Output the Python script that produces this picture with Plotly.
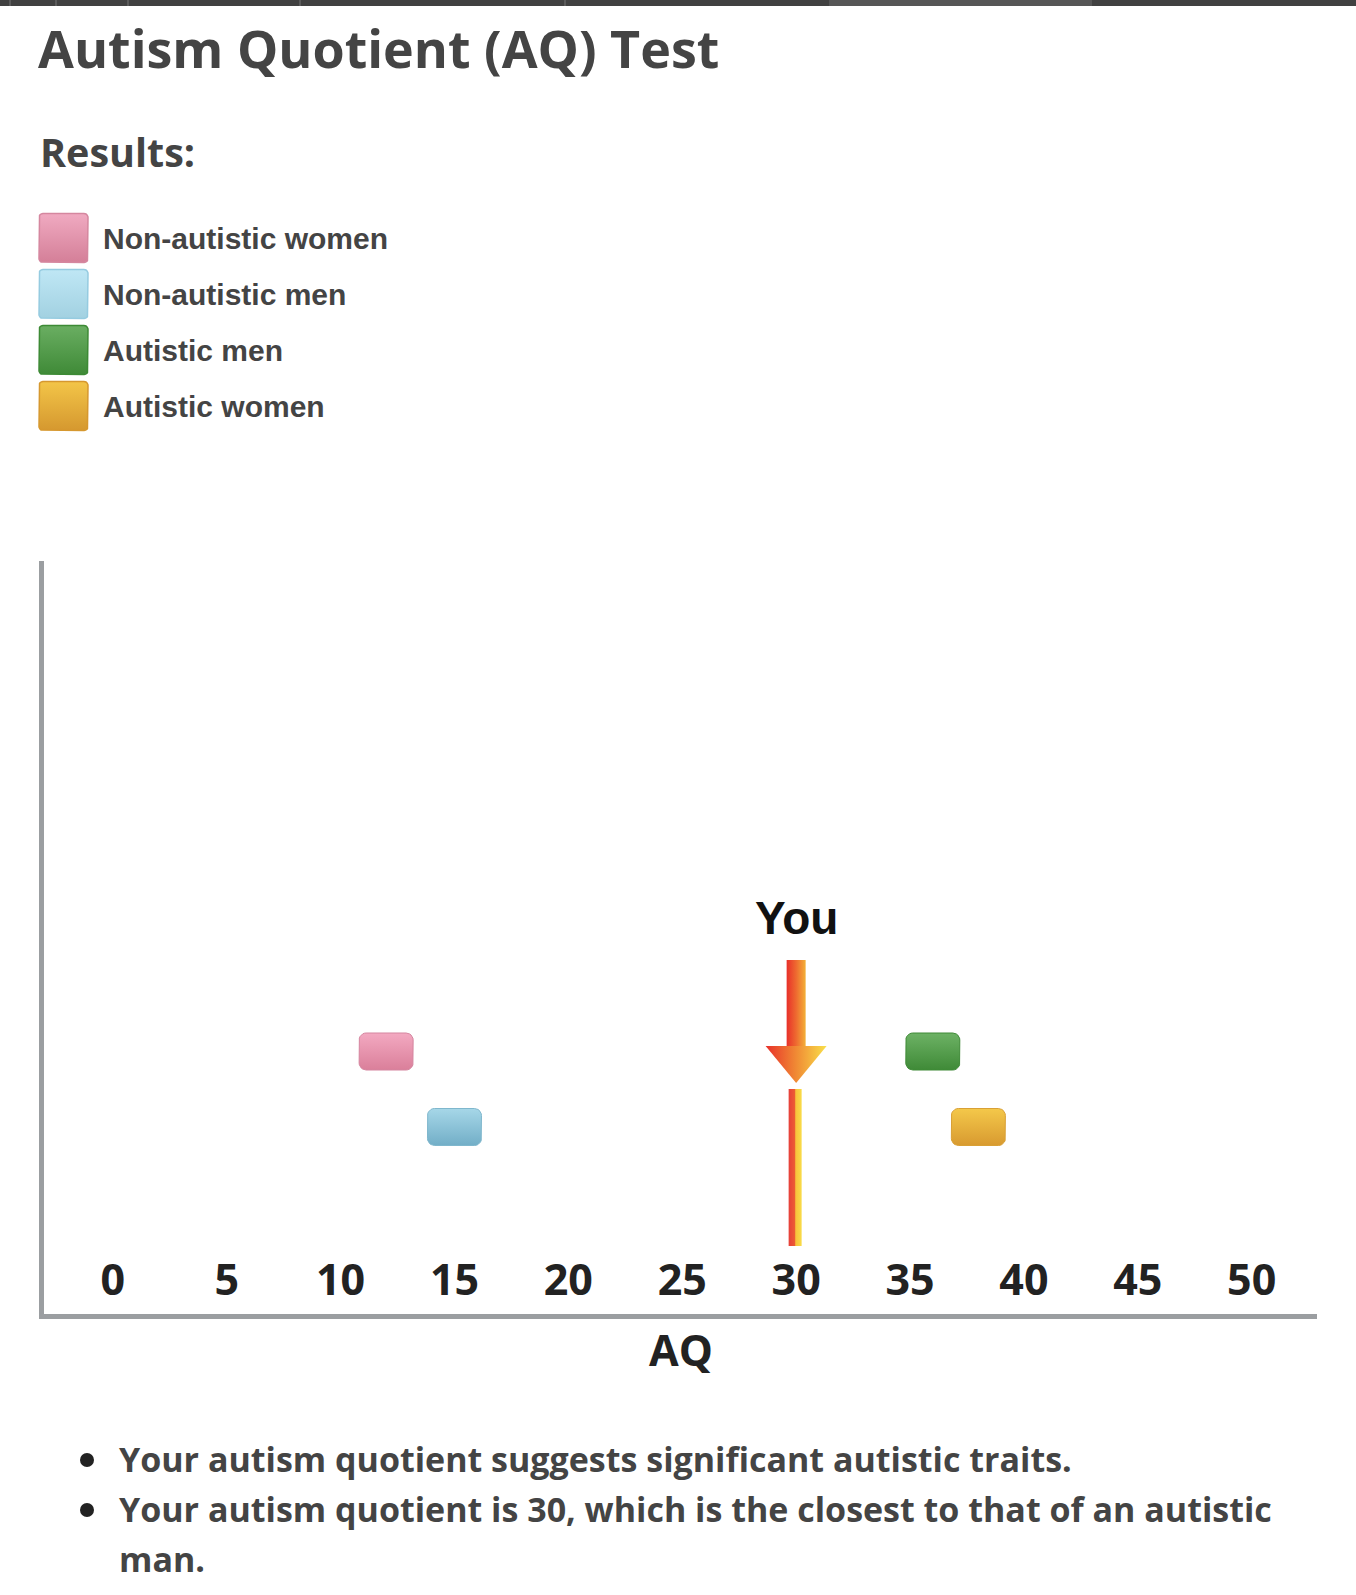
import numpy as np
import plotly.graph_objects as go

# ---------------- data ----------------
groups = ["Non-autistic women", "Non-autistic men", "Autistic men", "Autistic women"]
group_aq = [12, 15, 36, 38]
group_row = [1, 2, 1, 2]
you_score = 30
tick_values = [0, 5, 10, 15, 20, 25, 30, 35, 40, 45, 50]
tick_labels = ["0", "5", "10", "15", "20", "25", "30", "35", "40", "45", "50"]
x_title = "AQ"
bullets = [
    "Your autism quotient suggests significant autistic traits.",
    "Your autism quotient is 30, which is the closest to that of an autistic",
    "man.",
]

# ---------------- styling / layout constants ----------------
W, H = 1356, 1595
PL, PR, PT, PB = 44, 1317, 561, 1314       # plot area in page pixels
X0PX, PPX = 112.8, 22.778                  # pixel of AQ=0, pixels per AQ unit
ROW1PX, PPY = 1051.5, 75.5                 # pixel of row 1, pixels per row

box_top = ["#f3a9c1", "#a6d7e8", "#6db265", "#f4c84a"]
box_bot = ["#da7f9a", "#72aec7", "#3f8a37", "#d89a30"]
box_line = ["#d5859f", "#7fb7cd", "#3f8a37", "#d9a035"]
leg_top = ["#f0aac1", "#bfe7f5", "#6aae62", "#f3c548"]
leg_bot = ["#d47f98", "#a2d1e1", "#3f8a37", "#d5982f"]
leg_line = ["#d5879f", "#95cbe0", "#3d8a35", "#d6982f"]

xr = [(PL - X0PX) / PPX, (PR - X0PX) / PPX]
yr = [1 + (PB - ROW1PX) / PPY, 1 + (PT - ROW1PX) / PPY]   # reversed

def rrect(cx, cy, hw, hh, r, sx, sy):
    """rounded rectangle path; r in pixels, sx/sy pixels per unit"""
    rx, ry = r / sx, r / sy
    pts_x, pts_y = [], []
    corners = [(cx + hw - rx, cy - hh + ry, -90, 0),
               (cx + hw - rx, cy + hh - ry, 0, 90),
               (cx - hw + rx, cy + hh - ry, 90, 180),
               (cx - hw + rx, cy - hh + ry, 180, 270)]
    for (ccx, ccy, a0, a1) in corners:
        for a in np.linspace(np.radians(a0), np.radians(a1), 7):
            pts_x.append(ccx + rx * np.cos(a))
            pts_y.append(ccy + ry * np.sin(a))
    pts_x.append(pts_x[0]); pts_y.append(pts_y[0])
    return pts_x, pts_y

fig = go.Figure()

# ---------------- group boxes (data) ----------------
bw_px, bh_px = 54, 37
for i, g in enumerate(groups):
    hw = bw_px / 2 / PPX
    hh = bh_px / 2 / PPY
    xs, ys = rrect(group_aq[i], group_row[i], hw, hh, 7, PPX, PPY)
    fig.add_trace(go.Scatter(
        x=xs, y=ys, mode="lines", fill="toself", name=g,
        line=dict(color=box_line[i], width=1),
        fillgradient=dict(type="vertical",
                          colorscale=[[0, box_top[i]], [1, box_bot[i]]],
                          start=group_row[i] - hh, stop=group_row[i] + hh),
        hoverinfo="name", showlegend=False))

# ---------------- "You" arrow ----------------
def r_of(px):
    return 1 + (px - ROW1PX) / PPY

sh = 9.5 / PPX
hd = 30.5 / PPX
fig.add_trace(go.Scatter(
    x=[you_score - sh, you_score + sh, you_score + sh, you_score - sh, you_score - sh],
    y=[r_of(960), r_of(960), r_of(1047), r_of(1047), r_of(960)],
    mode="lines", fill="toself", line=dict(width=0, color="rgba(0,0,0,0)"),
    fillgradient=dict(type="horizontal",
                      colorscale=[[0, "#e8302a"], [0.5, "#ee6a30"], [1, "#f3b038"]],
                      start=you_score - sh, stop=you_score + sh),
    hoverinfo="skip", showlegend=False))
fig.add_trace(go.Scatter(
    x=[you_score - hd, you_score + hd, you_score, you_score - hd],
    y=[r_of(1046), r_of(1046), r_of(1083), r_of(1046)],
    mode="lines", fill="toself", line=dict(width=0, color="rgba(0,0,0,0)"),
    fillgradient=dict(type="horizontal",
                      colorscale=[[0, "#e8302a"], [0.5, "#f08a34"], [1, "#f9e04a"]],
                      start=you_score - hd, stop=you_score + hd),
    hoverinfo="skip", showlegend=False))
# marker bar under the arrow
b0 = you_score - 7.5 / PPX
b1 = you_score + 5.5 / PPX
fig.add_trace(go.Scatter(
    x=[b0, b1, b1, b0, b0],
    y=[r_of(1089), r_of(1089), r_of(1246), r_of(1246), r_of(1089)],
    mode="lines", fill="toself", line=dict(width=0, color="rgba(0,0,0,0)"),
    fillgradient=dict(type="horizontal",
                      colorscale=[[0, "#e6403a"], [0.45, "#ec5a34"], [0.55, "#f7c23c"], [1, "#f9dc48"]],
                      start=b0, stop=b1),
    hoverinfo="skip", showlegend=False))
fig.add_annotation(x=you_score, y=r_of(918), xref="x", yref="y", text="You",
                   showarrow=False, xanchor="center", yanchor="middle",
                   font=dict(family="Liberation Sans", size=46, color="#111111", weight="bold"))

# ---------------- legend (page pixel axes) ----------------
leg_cy = [238, 294, 350, 406]
for i, g in enumerate(groups):
    xs, ys = rrect(63.5, leg_cy[i], 24.5, 24.5, 4, 1, 1)
    fig.add_trace(go.Scatter(
        x=xs, y=ys, xaxis="x2", yaxis="y2", mode="lines", fill="toself",
        line=dict(color=leg_line[i], width=1.5),
        fillgradient=dict(type="vertical",
                          colorscale=[[0, leg_top[i]], [1, leg_bot[i]]],
                          start=leg_cy[i] - 24.5, stop=leg_cy[i] + 24.5),
        hoverinfo="skip", showlegend=False))
    fig.add_annotation(x=101, y=leg_cy[i], xref="x2", yref="y2", text=g,
                       showarrow=False, xanchor="left", yanchor="middle",
                       font=dict(family="Liberation Sans", size=30, color="#444444", weight="bold"))

# ---------------- headings ----------------
fig.add_annotation(x=36, y=47, xref="x2", yref="y2", text="Autism Quotient (AQ) Test",
                   showarrow=False, xanchor="left", yanchor="middle",
                   font=dict(family="Open Sans", size=52, color="#444444", weight="bold"))
fig.add_annotation(x=38, y=152, xref="x2", yref="y2", text="Results:",
                   showarrow=False, xanchor="left", yanchor="middle",
                   font=dict(family="Open Sans", size=39.5, color="#444444", weight="bold"))

# ---------------- x axis title ----------------
fig.add_annotation(x=0.5, y=1349, xref="x domain", yref="y2", text=x_title,
                   showarrow=False, xanchor="center", yanchor="middle",
                   font=dict(family="Open Sans", size=43, color="#222222", weight="bold"))

# ---------------- bullets ----------------
line_cy = [1459, 1509, 1559]
fig.add_trace(go.Scatter(x=[87, 87], y=[line_cy[0] + 1, line_cy[1] + 1], xaxis="x2", yaxis="y2",
                         mode="markers", marker=dict(size=14, color="#222222"),
                         hoverinfo="skip", showlegend=False))
for i, t in enumerate(bullets):
    fig.add_annotation(x=117, y=line_cy[i], xref="x2", yref="y2", text=t,
                       showarrow=False, xanchor="left", yanchor="middle",
                       font=dict(family="Open Sans", size=34, color="#444444", weight="bold"))

# ---------------- top bar ----------------
fig.add_shape(type="rect", xref="x2", yref="y2", x0=0, x1=W, y0=0, y1=6,
              fillcolor="#414141", line_width=0, layer="above")
fig.add_shape(type="rect", xref="x2", yref="y2", x0=829, x1=1092, y0=0, y1=6,
              fillcolor="#565656", line_width=0, layer="above")
for sx in [10, 56, 128, 300, 565]:
    fig.add_shape(type="line", xref="x2", yref="y2", x0=sx, x1=sx, y0=0, y1=6,
                  line=dict(color="#777777", width=1), layer="above")

fig.update_layout(
    width=W, height=H, margin=dict(l=0, r=0, t=0, b=0),
    paper_bgcolor="white", plot_bgcolor="rgba(0,0,0,0)",
    showlegend=False,
    xaxis=dict(domain=[PL / W, PR / W], range=xr, showgrid=False, zeroline=False,
               showline=True, linecolor="#9b9ea1", linewidth=5,
               tickvals=tick_values, ticktext=tick_labels, ticks="",
               ticklabelposition="inside", ticklabelstandoff=16,
               tickfont=dict(family="Open Sans", size=43, color="#222222", weight="bold"),
               fixedrange=True),
    yaxis=dict(domain=[1 - PB / H, 1 - PT / H], range=yr, showgrid=False, zeroline=False,
               showline=True, linecolor="#9b9ea1", linewidth=5, showticklabels=False,
               ticks="", fixedrange=True),
    xaxis2=dict(domain=[0, 1], range=[0, W], visible=False, anchor="y2",
                fixedrange=True),
    yaxis2=dict(domain=[0, 1], range=[H, 0], visible=False, anchor="x2",
                fixedrange=True),
)

fig.write_html("out.html")
